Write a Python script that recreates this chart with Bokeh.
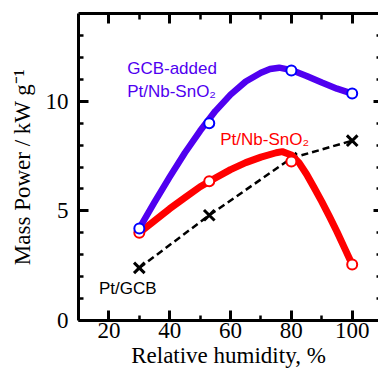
from bokeh.plotting import figure
from bokeh.models import LinearAxis, FixedTicker, Label, Range1d
from bokeh.embed import file_html
from bokeh.resources import INLINE

# ---- data ----
rh = [30, 53, 80, 100]
gcb_added = [4.2, 9.0, 11.4, 10.35]          # GCB-added Pt/Nb-SnO2 (blue circles)
nb_sno2 = [4.0, 6.35, 7.25, 2.55]            # Pt/Nb-SnO2 (red circles)
pt_gcb = [2.4, 4.8, 7.4, 8.2]                # Pt/GCB (black crosses)

# smooth guide curves as drawn in the reference
blue_fit_x = [30, 35, 40, 45, 50, 55, 60, 65, 70, 73, 76, 80, 85, 90, 95, 100]
blue_fit_y = [4.2, 5.4, 6.55, 7.65, 8.65, 9.55, 10.3, 10.9, 11.3, 11.47, 11.53, 11.42, 11.15, 10.85, 10.57, 10.35]
red_fit_x = [30, 35, 40, 45, 50, 55, 60, 65, 70, 75, 77, 80, 82.5, 85, 87.5, 90, 92.5, 95, 97.5, 100]
red_fit_y = [4.0, 4.55, 5.1, 5.6, 6.1, 6.5, 6.88, 7.2, 7.45, 7.65, 7.7, 7.55, 7.2, 6.67, 6.05, 5.42, 4.75, 4.05, 3.3, 2.55]

x_ticks = [20, 40, 60, 80, 100]
x_minor = [30, 50, 70, 90]
y_ticks = [0, 5, 10]
y_minor = [1, 2, 3, 4, 6, 7, 8, 9, 11, 12, 13]

BLUE_LINE = "#5000F0"
BLUE_MARK = "#0000FF"
RED = "#FF0000"

p = figure(width=378, height=375, x_range=Range1d(10, 108.65), y_range=Range1d(0, 14),
           output_backend="svg", toolbar_location=None,
           min_border_left=78, min_border_right=0, min_border_top=13, min_border_bottom=55,
           outline_line_color=None, background_fill_color="white", border_fill_color="white")
p.grid.visible = False


def style(ax, ticks, minor, labels=True, tin=10, mtin=5, line=True):
    ax.ticker = FixedTicker(ticks=ticks, minor_ticks=minor)
    ax.axis_line_width = 3
    ax.axis_line_color = "black" if line else None
    ax.major_tick_in = tin
    ax.major_tick_out = 0
    ax.minor_tick_in = mtin
    ax.minor_tick_out = 0
    ax.major_tick_line_width = 3
    ax.minor_tick_line_width = 2.5
    if labels:
        ax.major_label_text_font = "Liberation Serif"
        ax.major_label_text_font_size = "23px"
        ax.major_label_text_color = "black"
        ax.axis_label_text_font = "Liberation Serif"
        ax.axis_label_text_font_size = "23px"
        ax.axis_label_text_font_style = "normal"
        ax.axis_label_text_color = "black"
    else:
        ax.major_label_text_font_size = "0px"
        ax.major_label_text_color = None
        ax.major_label_standoff = 0
        ax.axis_label = None


xb = p.xaxis[0]
style(xb, x_ticks, x_minor)
xb.axis_label = "Relative humidity, %"
xb.major_label_standoff = 2
xb.axis_label_standoff = 2

yl = p.yaxis[0]
style(yl, y_ticks, y_minor)
yl.axis_label = "Mass Power / kW g\u207b\u00b9"
yl.major_label_standoff = 10
yl.axis_label_standoff = 8

xt = LinearAxis()
style(xt, x_ticks, x_minor, labels=False, tin=10, mtin=6)
p.add_layout(xt, "above")

yr = LinearAxis()
style(yr, y_ticks, y_minor, labels=False, tin=5, mtin=2, line=False)
p.add_layout(yr, "right")

# Pt/GCB dashed line with crosses
p.line(rh, pt_gcb, line_color="black", line_width=2.5, line_dash="7 4")
p.scatter(rh, pt_gcb, marker="x", size=15, line_color="black", line_width=3)

# Pt/Nb-SnO2 (red)
p.line(red_fit_x, red_fit_y, line_color=RED, line_width=7, line_join="round", line_cap="round")
p.scatter(rh, nb_sno2, marker="circle", size=10, fill_color="white", line_color=RED, line_width=2)

# GCB-added Pt/Nb-SnO2 (blue)
p.line(blue_fit_x, blue_fit_y, line_color=BLUE_LINE, line_width=6.5, line_join="round", line_cap="round")
p.scatter(rh, gcb_added, marker="circle", size=10, fill_color="white", line_color=BLUE_MARK, line_width=2)

lab_kw = dict(text_font="Liberation Sans", text_font_size="17px", text_baseline="alphabetic")
p.add_layout(Label(x=26, y=11.49, text="GCB-added", text_color=BLUE_LINE, **lab_kw))
p.add_layout(Label(x=26, y=10.43, text="Pt/Nb-SnO\u2082", text_color=BLUE_LINE, **lab_kw))
p.add_layout(Label(x=56.6, y=8.25, text="Pt/Nb-SnO\u2082", text_color=RED, **lab_kw))
p.add_layout(Label(x=16.7, y=1.47, text="Pt/GCB", text_color="black", **lab_kw))

open("out.html", "w").write(file_html(p, INLINE))
